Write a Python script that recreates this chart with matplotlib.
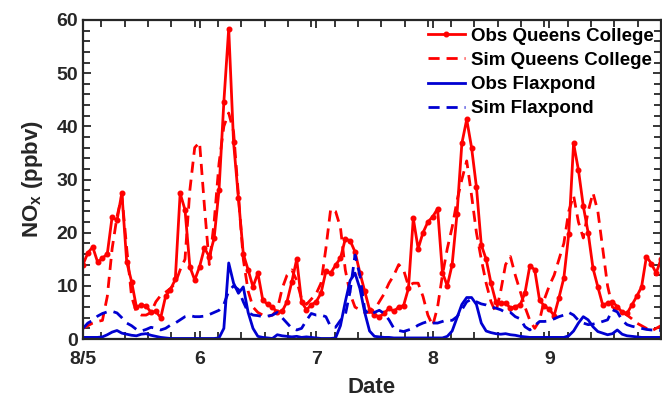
import numpy as np
import matplotlib
matplotlib.use('Agg')
import matplotlib.pyplot as plt
from matplotlib.ticker import FixedLocator

# Fonts (bold Arial-like look)
plt.rcParams['font.family'] = ['Liberation Sans', 'DejaVu Sans']
plt.rcParams['font.weight'] = 'bold'
plt.rcParams['mathtext.fontset'] = 'custom'
plt.rcParams['mathtext.rm'] = 'Liberation Sans:bold'
plt.rcParams['mathtext.bf'] = 'Liberation Sans:bold'

# Hourly data, 8/5 00:00 to 8/9 23:00
start_day = 5
n_hours = 120

obs_qc = [14, 16.2, 17.3, 14.5, 15.2, 16, 23, 22.3, 27.5, 14.5,
          10.8, 6, 6.4, 6.2, 5, 5.2, 4, 8, 9.3, 11.2,
          27.4, 24.3, 13.6, 11.1, 13.6, 17.1, 15.5, 19, 28, 44.6,
          58.4, 37, 26.5, 16, 13, 9.8, 12.4, 7.4, 6.5, 6,
          5, 5.2, 7, 10.8, 15, 7, 5.5, 6.4, 7, 8.6,
          12.7, 12.4, 13.9, 15.2, 18.8, 18.5, 16.4, 12.5, 9, 5.5,
          4.5, 4.2, 4.8, 5.8, 5.2, 6, 6.3, 9.5, 22.7, 17,
          20, 22, 23, 24.5, 12.5, 10, 14, 23.5, 36.8, 41.3,
          36, 28.6, 17.7, 15, 10.5, 7, 6.7, 6.8, 5.8, 6.1,
          6.4, 8.7, 13.8, 13, 7.3, 6.2, 5.6, 4.4, 7.8, 11.5,
          19.7, 36.8, 31.8, 25, 20, 13.3, 9.8, 6.4, 6.7, 7,
          6.1, 5, 4.8, 6.4, 8, 9.8, 15.5, 14.2, 12.4, 15]

sim_qc = [2, 2.5, 3, 3.3, 3.5, 8, 17, 23, 27, 17,
          8, 5, 4.5, 4.5, 5, 7, 8.2, 8.8, 9.5, 10.5,
          13, 15, 28, 36, 37, 25, 14, 22, 33, 40,
          42.5, 39, 27, 15, 9, 6, 5, 4.5, 4.2, 4.5,
          5.5, 9.5, 12, 13, 11, 7.5, 6.5, 7.5, 8.5, 10.5,
          17, 24.5, 24, 21, 13, 8.5, 6, 5.5, 5, 5,
          5.5, 7, 8.5, 10.5, 12, 14, 13, 10, 10.5, 10.5,
          8, 4.5, 2.5, 6, 12, 17, 21, 26, 30, 33.5,
          27, 20, 15, 10.5, 7, 5, 9, 14, 15.5, 12,
          9, 6, 3.5, 2, 3.5, 7.5, 10, 12, 15, 18,
          24, 27, 22, 19, 24, 27.5, 24, 17, 10, 6,
          5.5, 5, 4.5, 3.8, 3, 2.5, 2, 1.5, 2, 2.5]

obs_flax = [0.3, 0.3, 0.3, 0.3, 0.4, 0.8, 1.3, 1.6, 1.1, 0.9,
            0.7, 0.6, 0.9, 1.0, 0.7, 0.5, 0.3, 0.2, 0.1, 0.1,
            0.1, 0.1, 0.1, 0.1, 0.1, 0.1, 0.1, 0.1, 0.2, 2,
            14.3, 10.5, 8.6, 9.8, 5, 2, 0.5, 0.3, 0.2, 0.1,
            0.8, 0.6, 0.5, 0.4, 0.5, 0.3, 0.4, 0.3, 0.2, 0.1,
            0.1, 0.1, 0.2, 2.5, 7, 11, 12.4, 9.5, 5, 1.5,
            0.5, 0.4, 0.3, 0.3, 0.2, 0.2, 0.2, 0.2, 0.2, 0.2,
            0.2, 0.2, 0.2, 0.2, 0.2, 0.5, 1.5, 4, 6.5, 7.8,
            7.8, 6.5, 3, 1.5, 1.2, 1, 0.9, 1, 0.8, 0.7,
            0.5, 0.4, 0.3, 0.3, 0.3, 0.3, 0.3, 0.3, 0.3, 0.3,
            0.6, 1.5, 3, 4.2, 3.6, 2.3, 1.4, 1.1, 0.8, 1.0,
            1.7, 0.9, 0.6, 0.5, 0.4, 0.3, 0.3, 0.3, 0.3, 0.3]

sim_flax = [2, 3, 3.5, 4.3, 4.8, 5.1, 5.2, 4.9, 4, 3,
            2.5, 1.8, 1.5, 1.8, 2.2, 2, 1.7, 2, 2.6, 3,
            3.6, 4.2, 4.4, 4.2, 4.2, 4.3, 4.6, 5, 5.4, 6.5,
            9, 10, 9.3, 7, 5, 4.5, 4.4, 4.2, 4.3, 4.5,
            5, 4, 3, 2, 1.7, 2, 3.5, 4.8, 4.5, 4.5,
            4.2, 2.3, 2.2, 3.5, 4.5, 9, 15.8, 12, 5.5, 4.5,
            5, 5.4, 4.8, 3.6, 2, 1.6, 1.4, 1.7, 2, 2.6,
            3, 3.3, 3, 3, 3.3, 3.6, 3.5, 4.2, 5.5, 7,
            7.5, 7, 6.6, 6.4, 6, 5.8, 5.5, 5, 5, 4.2,
            3.8, 2.3, 1.7, 2.5, 3.3, 3.3, 3.4, 3.8, 4.2, 4.5,
            5, 4.5, 3.5, 3, 2.7, 2.8, 3, 3.3, 3.6, 5.5,
            5.1, 3.5, 2.7, 2.4, 2.2, 2, 1.8, 1.7, 1.7, 1.6]

day_ticks = [5, 6, 7, 8, 9]
day_labels = ['8/5', '6', '7', '8', '9']

t = start_day + np.arange(n_hours) / 24.0

red = (1, 0, 0)
blue = (0, 0, 0.82)
axcol = '#262626'

fig = plt.figure(figsize=(6.62, 4.0), dpi=100)
ax = fig.add_axes([83 / 662, 61 / 400, 578 / 662, 319 / 400])

ax.plot(t, obs_qc, '-', color=red, lw=2, marker='o', ms=3.3, label='Obs Queens College')
ax.plot(t, sim_qc, '--', color=red, lw=2, dashes=(4, 2.5), label='Sim Queens College')
ax.plot(t, obs_flax, '-', color=blue, lw=2, label='Obs Flaxpond')
ax.plot(t, sim_flax, '--', color=blue, lw=2, dashes=(4, 2.5), label='Sim Flaxpond')

ax.set_xlim(t[0], t[-1])
ax.set_ylim(0, 60)
ax.set_xticks(day_ticks)
ax.set_xticklabels(day_labels)
ax.set_yticks(np.arange(0, 61, 10))
ax.xaxis.set_minor_locator(FixedLocator(np.arange(start_day - 1 / 24.0, t[-1], 0.2)))
ax.yaxis.set_minor_locator(FixedLocator(np.arange(0, 61, 2)))

ax.tick_params(which='both', direction='in', top=True, right=True, color=axcol,
               labelcolor=axcol, labelsize=14, width=1.3)
ax.tick_params(which='major', length=6)
ax.tick_params(which='minor', length=5)
ax.tick_params(axis='x', pad=9)
for s in ax.spines.values():
    s.set_color(axcol)
    s.set_linewidth(1.6)

ax.set_xlabel('Date', fontsize=16, fontweight='bold', color=axcol, labelpad=6)
ax.set_ylabel('NO$_\\mathrm{x}$ (ppbv)', fontsize=16, fontweight='bold', color=axcol, labelpad=8)

leg = ax.legend(loc='upper right', bbox_to_anchor=(1.0, 1.0), frameon=False, fontsize=13.5,
                handlelength=2.0, handletextpad=0.3, labelspacing=0.38, borderpad=0.1,
                borderaxespad=0.3)
for txt in leg.get_texts():
    txt.set_fontweight('bold')
    txt.set_color('black')

fig.savefig('out.png', dpi=100)
